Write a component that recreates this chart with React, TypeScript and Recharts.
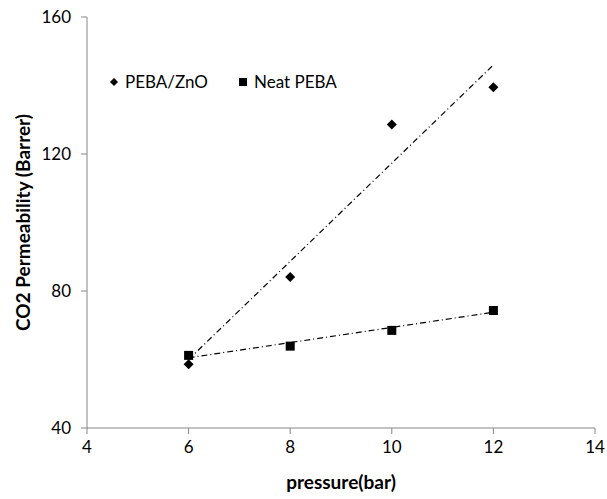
import React from 'react';
import { ScatterChart, Scatter, XAxis, YAxis } from 'recharts';

const znoPoints = [
  { x: 6, y: 58.6 },
  { x: 8, y: 84.1 },
  { x: 10, y: 128.6 },
  { x: 12, y: 139.5 },
];
const neatPoints = [
  { x: 6, y: 61.2 },
  { x: 8, y: 63.9 },
  { x: 10, y: 68.5 },
  { x: 12, y: 74.3 },
];
// trendline end points
const znoTrend = [
  { x: 6, y: 60 },
  { x: 12, y: 146 },
];
const neatTrend = [
  { x: 6, y: 60.5 },
  { x: 12, y: 73.8 },
];
const xTicks = [4, 6, 8, 10, 12, 14];
const yTicks = [40, 80, 120, 160];

const FONT = 'Lato, "Noto Sans", sans-serif';
const AXIS = '#868686';

const Diamond = (props: any) => {
  const { cx, cy } = props;
  const r = 5;
  return <path d={`M${cx},${cy - r}L${cx + r},${cy}L${cx},${cy + r}L${cx - r},${cy}Z`} fill="#000" />;
};

const Square = (props: any) => {
  const { cx, cy } = props;
  const s = 9;
  return <rect x={cx - s / 2} y={cy - s / 2} width={s} height={s} fill="#000" />;
};

const NoDot = () => <g />;

const LegendBox = () => (
  <div
    style={{
      position: 'absolute',
      top: 71,
      left: 109,
      display: 'flex',
      alignItems: 'center',
      fontFamily: FONT,
      fontSize: 17,
      color: '#000',
      whiteSpace: 'nowrap',
    }}
  >
    <svg width={10} height={10} style={{ marginRight: 6 }}>
      <path d="M5,1L9,5L5,9L1,5Z" fill="#000" />
    </svg>
    <span>PEBA/ZnO</span>
    <svg width={10} height={10} style={{ marginLeft: 30, marginRight: 6 }}>
      <rect x={1} y={1} width={8} height={8} fill="#000" />
    </svg>
    <span>Neat PEBA</span>
  </div>
);

export default function App() {
  return (
    <div style={{ position: 'fixed', left: 0, top: 0, width: 607, height: 499, background: '#fff', overflow: 'hidden' }}>
      <ScatterChart width={607} height={499} margin={{ top: 17, right: 12, bottom: 11, left: 7 }}>
        <XAxis
          type="number"
          dataKey="x"
          domain={[4, 14]}
          ticks={xTicks}
          interval={0}
          allowDataOverflow
          height={60}
          stroke={AXIS}
          tickSize={6}
          tickMargin={7}
          tick={{ fill: '#000', fontSize: 17, fontFamily: FONT }}
          label={(p: any) => {
            const vb = p.viewBox;
            return (
              <text
                x={vb.x + vb.width / 2}
                y={vb.y + 53}
                textAnchor="middle"
                dominantBaseline="central"
                fontFamily={FONT}
                fontWeight="bold"
                fontSize={19}
                fill="#000"
              >
                pressure(bar)
              </text>
            );
          }}
        />
        <YAxis
          type="number"
          dataKey="y"
          domain={[40, 160]}
          ticks={yTicks}
          interval={0}
          allowDataOverflow
          width={80}
          stroke={AXIS}
          tickSize={6}
          tickMargin={10}
          tick={{ fill: '#000', fontSize: 17, fontFamily: FONT }}
          label={(p: any) => {
            const vb = p.viewBox;
            const cx = vb.x + 15;
            const cy = vb.y + vb.height / 2;
            return (
              <text
                x={cx}
                y={cy}
                transform={`rotate(-90 ${cx} ${cy})`}
                textAnchor="middle"
                dominantBaseline="central"
                fontFamily={FONT}
                fontWeight="bold"
                fontSize={19}
                fill="#000"
              >
                CO2 Permeability (Barrer)
              </text>
            );
          }}
        />
        <Scatter
          name="trendZnO"
          data={znoTrend}
          line={{ stroke: '#000', strokeWidth: 1.2, strokeDasharray: '6 3 1 3' }}
          shape={NoDot}
          legendType="none"
          isAnimationActive={false}
        />
        <Scatter
          name="trendNeat"
          data={neatTrend}
          line={{ stroke: '#000', strokeWidth: 1.2, strokeDasharray: '6 3 1 3' }}
          shape={NoDot}
          legendType="none"
          isAnimationActive={false}
        />
        <Scatter name="PEBA/ZnO" data={znoPoints} shape={Diamond} isAnimationActive={false} />
        <Scatter name="Neat PEBA" data={neatPoints} shape={Square} isAnimationActive={false} />
      </ScatterChart>
      <LegendBox />
    </div>
  );
}
